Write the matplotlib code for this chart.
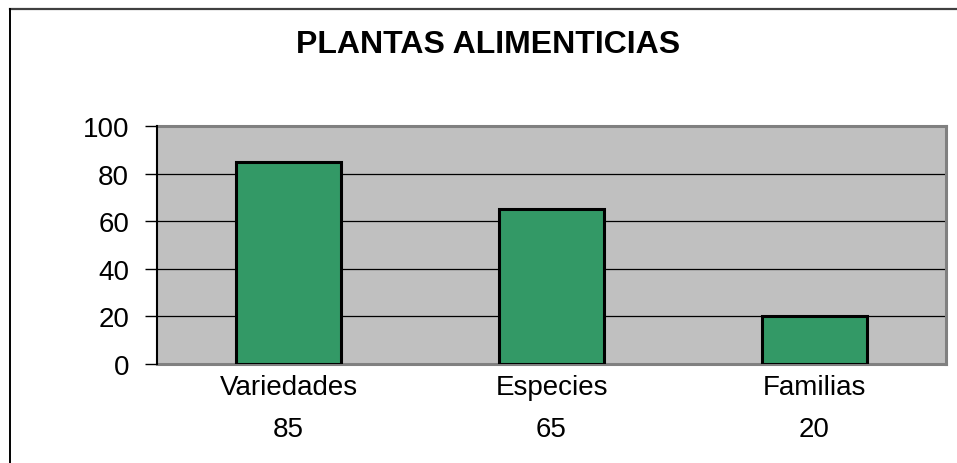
import matplotlib
matplotlib.use("Agg")
import matplotlib.pyplot as plt
from matplotlib.lines import Line2D
from matplotlib import transforms

categories = ["Variedades", "Especies", "Familias"]
values = [85, 65, 20]
yticks = [0, 20, 40, 60, 80, 100]
title = "PLANTAS ALIMENTICIAS"

W, H = 957, 464
fig = plt.figure(figsize=(W / 100, H / 100), dpi=100)
fig.patch.set_facecolor("white")
plt.rcParams["font.family"] = ["Liberation Sans", "DejaVu Sans"]

l, r, t, b = 157, 946, 127, 365
ax = fig.add_axes([l / W, 1 - b / H, (r - l) / W, (b - t) / H])
ax.set_facecolor("#C0C0C0")

x = list(range(len(categories)))
ax.bar(x, values, width=0.4, color="#339966", edgecolor="black", linewidth=2.2, zorder=3)
ax.set_xlim(-0.5, len(categories) - 0.5)
ax.set_ylim(0, 100)
ax.set_yticks(yticks)
ax.set_yticklabels([str(v) for v in yticks], fontsize=20)
ax.yaxis.grid(True, color="black", linewidth=0.9, zorder=1)
ax.set_axisbelow(True)
ax.tick_params(axis="y", direction="out", length=9, width=1, color="black", pad=11)
ax.set_xticks(x)
ax.set_xticklabels(categories, fontsize=20)
ax.tick_params(axis="x", length=0, pad=7)

for side in ["top", "right", "bottom"]:
    ax.spines[side].set_color("#808080")
    ax.spines[side].set_linewidth(2.2)
ax.spines["left"].set_color("black")
ax.spines["left"].set_linewidth(1.5)
ax.spines["left"].set_zorder(4)

trans = transforms.blended_transform_factory(ax.transData, ax.transAxes)
for xi, v in zip(x, values):
    ax.text(xi, -0.273, str(v), transform=trans, ha="center", va="center", fontsize=20)

fig.text(488 / W, 1 - 45 / H, title, ha="center", va="center", fontsize=23, fontweight="bold")

# figure border (top and left visible)
fig.add_artist(Line2D([9.5 / W, 1], [1 - 10 / H, 1 - 10 / H], transform=fig.transFigure, color="#404040", linewidth=1.6))
fig.add_artist(Line2D([9.5 / W, 9.5 / W], [0, 1 - 10 / H], transform=fig.transFigure, color="black", linewidth=1.4))

fig.savefig("out.png", dpi=100)
